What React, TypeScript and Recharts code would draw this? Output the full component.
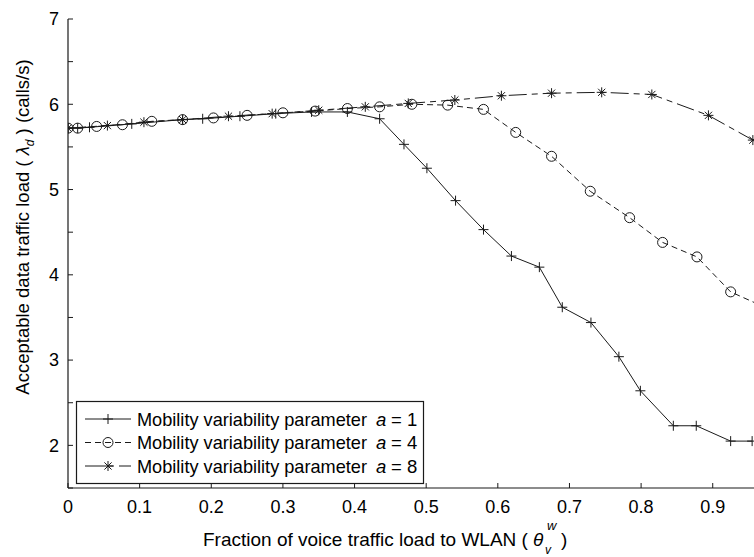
import { LineChart, Line, XAxis, YAxis } from "recharts";

// a = 1 (plus markers, solid line)
const xA1 = [0, 0.0135, 0.03, 0.089, 0.16, 0.188, 0.24, 0.29, 0.34, 0.39, 0.435, 0.469, 0.501, 0.541, 0.58, 0.619, 0.658, 0.69, 0.73, 0.769, 0.799, 0.845, 0.877, 0.925, 0.955];
const yA1 = [5.72, 5.72, 5.73, 5.77, 5.82, 5.83, 5.86, 5.89, 5.91, 5.91, 5.83, 5.53, 5.25, 4.87, 4.53, 4.22, 4.09, 3.62, 3.44, 3.04, 2.64, 2.23, 2.23, 2.05, 2.05];

// a = 4 (circle markers, dashed)
const xA4 = [0, 0.0135, 0.04, 0.076, 0.117, 0.16, 0.203, 0.25, 0.3, 0.345, 0.39, 0.435, 0.48, 0.53, 0.58, 0.625, 0.675, 0.729, 0.784, 0.83, 0.878, 0.925, 0.97];
const yA4 = [5.72, 5.72, 5.74, 5.76, 5.8, 5.82, 5.84, 5.87, 5.9, 5.92, 5.95, 5.97, 6.0, 5.99, 5.94, 5.67, 5.39, 4.98, 4.67, 4.38, 4.21, 3.8, 3.63];

// a = 8 (star markers, dash-dot)
const xA8 = [0, 0.055, 0.106, 0.16, 0.224, 0.285, 0.35, 0.415, 0.475, 0.54, 0.605, 0.675, 0.745, 0.815, 0.894, 0.956];
const yA8 = [5.72, 5.75, 5.79, 5.82, 5.86, 5.89, 5.93, 5.97, 6.01, 6.05, 6.1, 6.13, 6.14, 6.115, 5.87, 5.58];

const xTicks = [0, 0.1, 0.2, 0.3, 0.4, 0.5, 0.6, 0.7, 0.8, 0.9];
const yTicks = [1.5, 2, 2.5, 3, 3.5, 4, 4.5, 5, 5.5, 6, 6.5, 7];
const legendLabels = ["1", "4", "8"];

const FONT = '"Liberation Sans", Arial, Helvetica, sans-serif';
const INK = "#1a1a1a";
const DASH_A4 = "6 4";
const DASH_A8 = "18 5 6 5";

const toPoints = (xs: number[], ys: number[]) => xs.map((x, i) => ({ x, y: ys[i] }));

function plus(cx: number, cy: number, key?: string | number) {
  return (
    <path key={key} d={`M${cx - 5},${cy}h10M${cx},${cy - 5}v10`} stroke={INK} strokeWidth={1} fill="none" />
  );
}
function circle(cx: number, cy: number, key?: string | number) {
  return <circle key={key} cx={cx} cy={cy} r={5} stroke={INK} strokeWidth={1} fill="none" />;
}
function star(cx: number, cy: number, key?: string | number) {
  const d = 3.6;
  return (
    <path
      key={key}
      d={`M${cx - 5},${cy}h10M${cx},${cy - 5}v10M${cx - d},${cy - d}L${cx + d},${cy + d}M${cx - d},${cy + d}L${cx + d},${cy - d}`}
      stroke={INK}
      strokeWidth={1}
      fill="none"
    />
  );
}

const plusDot = (p: any) => plus(p.cx, p.cy, `p${p.index}`);
const circleDot = (p: any) => circle(p.cx, p.cy, `c${p.index}`);
const starDot = (p: any) => star(p.cx, p.cy, `s${p.index}`);

const XTitle = () => (
  <g fontFamily={FONT} fill="#000">
    <text x={203} y={546} fontSize={19}>
      Fraction of voice traffic load to WLAN  (
    </text>
    <text x={533} y={546} fontSize={19} fontStyle="italic">θ</text>
    <text x={547} y={530} fontSize={13} fontStyle="italic">w</text>
    <text x={545} y={554} fontSize={12} fontStyle="italic">v</text>
    <text x={561} y={546} fontSize={19}>)</text>
  </g>
);

const YTitle = () => (
  <text
    transform="translate(29,227) rotate(-90)"
    textAnchor="middle"
    fontFamily={FONT}
    fontSize={18.5}
    fill="#000"
  >
    Acceptable data traffic load (
    <tspan fontStyle="italic"> λ</tspan>
    <tspan fontStyle="italic" fontSize={12} dy={5}>d</tspan>
    <tspan dy={-5}> ) (calls/s)</tspan>
  </text>
);

function LegendBox() {
  const rows = [
    { dash: undefined, mark: plus },
    { dash: DASH_A4, mark: circle },
    { dash: DASH_A8, mark: star },
  ];
  return (
    <svg
      width={754}
      height={557}
      style={{ position: "absolute", left: 0, top: 0, pointerEvents: "none" }}
    >
      <rect x={76.5} y={401.5} width={347} height={82} fill="#fff" stroke={INK} strokeWidth={1.2} />
      {rows.map((r, i) => {
        const cy = 419 + i * 23.5;
        return (
          <g key={i}>
            <line x1={85} x2={131} y1={cy} y2={cy} stroke={INK} strokeWidth={1} strokeDasharray={r.dash} />
            {r.mark(108, cy)}
            <text
              x={137}
              y={cy + 6.5}
              fontFamily={FONT}
              fontSize={18.5}
              fill="#000"
              textLength={230}
              lengthAdjust="spacingAndGlyphs"
            >
              Mobility variability parameter
            </text>
            <text x={376} y={cy + 6.5} fontFamily={FONT} fontSize={18.5} fontStyle="italic" fill="#000">
              a
            </text>
            <text x={391} y={cy + 6.5} fontFamily={FONT} fontSize={18.5} fill="#000">
              = {legendLabels[i]}
            </text>
          </g>
        );
      })}
    </svg>
  );
}

export default function App() {
  const tickStyle = { fontSize: 18, fill: "#000", fontFamily: FONT };
  return (
    <div style={{ position: "absolute", left: 0, top: 0, width: 754, height: 557, overflow: "hidden", background: "#fff" }}>
      <LineChart width={756} height={557} margin={{ top: 19, right: 1, bottom: 0, left: 0 }}>
        <XAxis
          xAxisId="x"
          dataKey="x"
          type="number"
          domain={[0, 0.959]}
          allowDataOverflow
          ticks={xTicks}
          interval={0}
          height={69}
          tickSize={-5}
          tickMargin={17}
          tick={tickStyle}
          tickLine={{ stroke: INK }}
          axisLine={{ stroke: INK, strokeWidth: 1.2 }}
          tickFormatter={(v) => String(v)}
          label={XTitle}
        />
        <XAxis
          xAxisId="top"
          orientation="top"
          dataKey="x"
          type="number"
          domain={[0, 0.959]}
          allowDataOverflow
          ticks={xTicks}
          interval={0}
          height={0}
          tickSize={-5}
          tickFormatter={() => ""}
          tickLine={{ stroke: INK }}
          axisLine={{ stroke: INK, strokeWidth: 1.2 }}
        />
        <YAxis
          yAxisId="y"
          dataKey="y"
          type="number"
          domain={[1.5, 7]}
          allowDataOverflow
          ticks={yTicks}
          interval={0}
          width={68}
          tickSize={-5}
          tickMargin={14}
          tick={tickStyle}
          tickLine={{ stroke: INK }}
          axisLine={{ stroke: INK, strokeWidth: 1.2 }}
          tickFormatter={(v) => (Number.isInteger(v) ? String(v) : "")}
          label={YTitle}
        />
        <YAxis
          yAxisId="right"
          orientation="right"
          dataKey="y"
          type="number"
          domain={[1.5, 7]}
          allowDataOverflow
          ticks={yTicks}
          interval={0}
          width={0}
          tickSize={-5}
          tickFormatter={() => ""}
          tickLine={{ stroke: INK }}
          axisLine={{ stroke: INK, strokeWidth: 1.2 }}
        />
        <Line
          xAxisId="x"
          yAxisId="y"
          data={toPoints(xA1, yA1)}
          dataKey="y"
          type="linear"
          stroke={INK}
          strokeWidth={1}
          dot={plusDot}
          isAnimationActive={false}
        />
        <Line
          xAxisId="x"
          yAxisId="y"
          data={toPoints(xA4, yA4)}
          dataKey="y"
          type="linear"
          stroke={INK}
          strokeWidth={1}
          strokeDasharray={DASH_A4}
          dot={circleDot}
          isAnimationActive={false}
        />
        <Line
          xAxisId="x"
          yAxisId="y"
          data={toPoints(xA8, yA8)}
          dataKey="y"
          type="linear"
          stroke={INK}
          strokeWidth={1}
          strokeDasharray={DASH_A8}
          dot={starDot}
          isAnimationActive={false}
        />
      </LineChart>
      <LegendBox />
    </div>
  );
}
